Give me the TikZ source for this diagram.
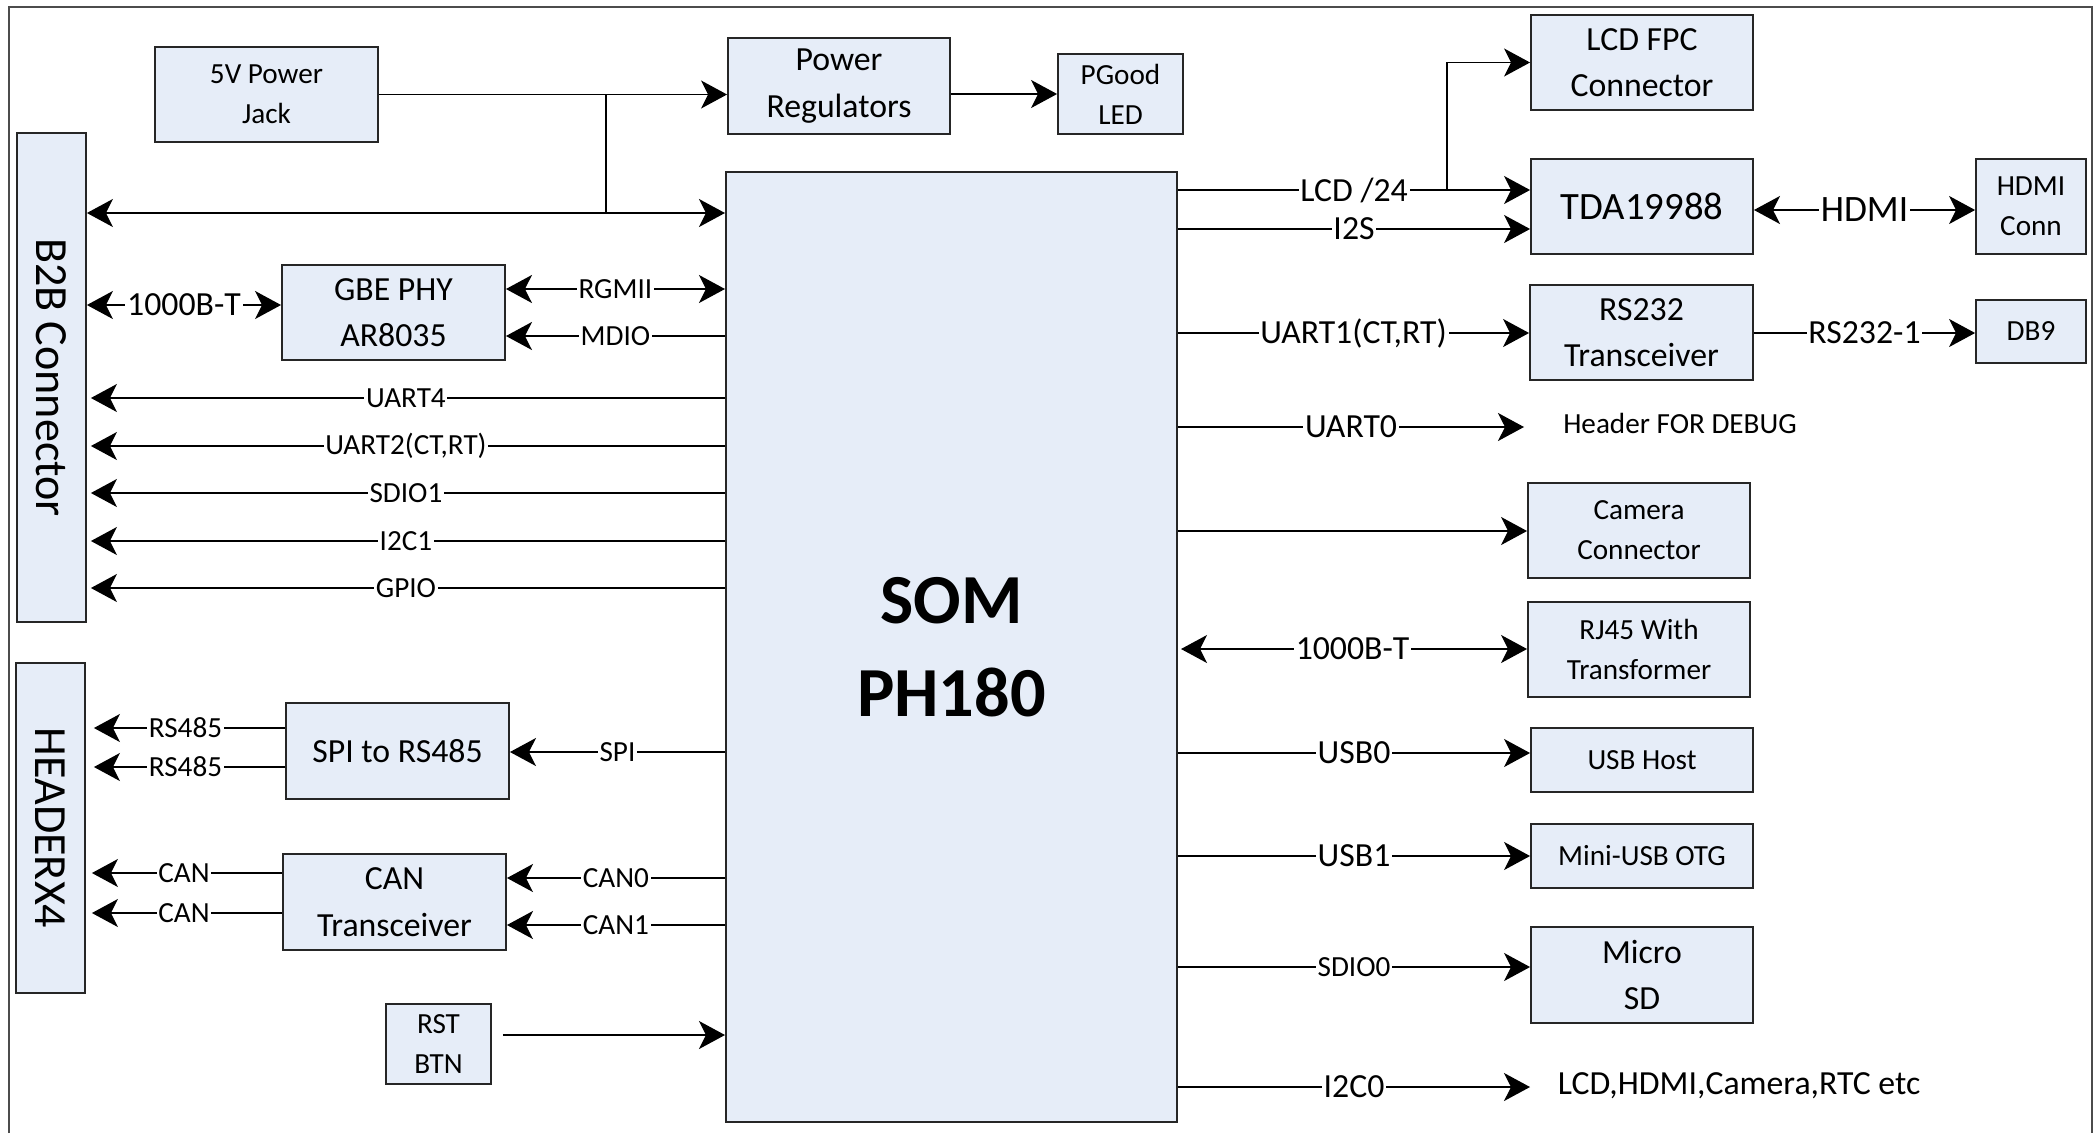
\documentclass[tikz,border=0pt]{standalone}
\usepackage{fontspec}
\setmainfont{Carlito}
\usetikzlibrary{arrows.meta}
\definecolor{boxfill}{RGB}{230,237,248}
\newcommand\myfsA{\fontsize{8.3}{11.4}\selectfont}
\newcommand\myfsB{\fontsize{9.6}{13.2}\selectfont}
\newcommand\myfsC{\fontsize{11}{14}\selectfont}
\newcommand\myfsD{\fontsize{10.6}{14}\selectfont}
\newcommand\myfsE{\fontsize{13.1}{16}\selectfont}
\newcommand\myfsF{\fontsize{20}{26.5}\selectfont\bfseries}
\begin{document}
\begin{tikzpicture}[x=0.01cm,y=-0.01cm,
  >={Stealth[length=2.6mm,width=2.8mm,inset=0.7mm]},
  box/.style={draw=black!85, line width=0.5pt, fill=boxfill, inner sep=1pt, align=center},
  ln/.style={line width=0.45pt},
  arr/.style={ln,->},
  darr/.style={ln,<->},
  lab/.style={fill=white, inner sep=0.5pt, font=\myfsA},
  labB/.style={fill=white, inner sep=0.5pt, font=\myfsB},
]
\useasboundingbox (0,0) rectangle (2098,1133);
\fill[white] (0,0) rectangle (2098,1133);
\draw[black!70, line width=0.6pt] (9,1133) -- (9,7) -- (2092,7) -- (2092,1133);

% boxes
\node[box, minimum width=2.23cm, minimum height=0.95cm, font=\myfsA] (jack) at (266.5,94.5) {5V Power\\Jack};
\node[box, minimum width=2.22cm, minimum height=0.96cm, font=\myfsB] (preg) at (839,86) {Power\\Regulators};
\node[box, minimum width=1.25cm, minimum height=0.80cm, font=\myfsA] (pgood) at (1120.5,94) {PGood\\LED};
\node[box, minimum width=0.69cm, minimum height=4.89cm, font=\myfsE] (b2b) at (51.5,377.5) {\rotatebox{-90}{B2B Connector}};
\node[box, minimum width=0.69cm, minimum height=3.30cm, font=\myfsE] (hdr) at (50.5,828) {\rotatebox{-90}{HEADERX4}};
\node[box, minimum width=4.51cm, minimum height=9.50cm, font=\myfsF] (som) at (951.5,647) {SOM\\PH180};
\node[box, minimum width=2.23cm, minimum height=0.95cm, font=\myfsB] (gbe) at (393.5,312.5) {GBE PHY\\AR8035};
\node[box, minimum width=2.23cm, minimum height=0.96cm, font=\myfsB] (spi) at (397.5,751) {SPI to RS485};
\node[box, minimum width=2.23cm, minimum height=0.96cm, font=\myfsB] (can) at (394.5,902) {CAN\\Transceiver};
\node[box, minimum width=1.05cm, minimum height=0.80cm, font=\myfsA] (rst) at (438.5,1044) {RST\\BTN};
\node[box, minimum width=2.22cm, minimum height=0.95cm, font=\myfsB] (lcdfpc) at (1642,62.5) {LCD FPC\\Connector};
\node[box, minimum width=2.22cm, minimum height=0.95cm, font=\myfsC] (tda) at (1642,206.5) {TDA19988};
\node[box, minimum width=1.10cm, minimum height=0.95cm, font=\myfsA] (hdmic) at (2031,206.5) {HDMI\\Conn};
\node[box, minimum width=2.23cm, minimum height=0.95cm, font=\myfsB] (rs232) at (1641.5,332.5) {RS232\\Transceiver};
\node[box, minimum width=1.10cm, minimum height=0.63cm, font=\myfsA] (db9) at (2031,331.5) {DB9};
\node[box, minimum width=2.22cm, minimum height=0.95cm, font=\myfsA] (cam) at (1639,530.5) {Camera\\Connector};
\node[box, minimum width=2.22cm, minimum height=0.95cm, font=\myfsA] (rj45) at (1639,649.5) {RJ45 With\\Transformer};
\node[box, minimum width=2.22cm, minimum height=0.64cm, font=\myfsA] (usbh) at (1642,760) {USB Host};
\node[box, minimum width=2.22cm, minimum height=0.64cm, font=\myfsA] (musb) at (1642,856) {Mini-USB OTG};
\node[box, minimum width=2.22cm, minimum height=0.96cm, font=\myfsB] (msd) at (1642,975) {Micro\\SD};
\node[font=\myfsA] (dbg) at (1680,423) {Header FOR DEBUG};
\node[font=\myfsB] (i2ct) at (1739,1086) {LCD,HDMI,Camera,RTC etc};

% power
\coordinate (jtop) at (606,94.5);
\coordinate (jbot) at (606,213);
\draw[arr] (jack.east) -- (jack.east -| preg.west);
\draw[ln] (jtop) -- (jbot);
\draw[darr] (b2b.east |- jbot) -- (som.west |- jbot);
\draw[arr] (preg.east |- pgood.west) -- (pgood.west);

% left side
\draw[darr] (b2b.east |- 0,305) -- node[labB] (l1) {1000B-T} (gbe.west |- 0,305);
\draw[darr] (gbe.east |- 0,289) -- node[lab] (l2) {RGMII} (som.west |- 0,289);
\draw[arr] (som.west |- 0,336) -- node[lab] (l3) {MDIO} (gbe.east |- 0,336);
\draw[arr, shorten >=0.4mm] (som.west |- 0,398) -- node[lab] (l4) {UART4} (b2b.east |- 0,398);
\draw[arr, shorten >=0.4mm] (som.west |- 0,446) -- node[lab] (l5) {UART2(CT,RT)} (b2b.east |- 0,446);
\draw[arr, shorten >=0.4mm] (som.west |- 0,493) -- node[lab] (l6) {SDIO1} (b2b.east |- 0,493);
\draw[arr, shorten >=0.4mm] (som.west |- 0,541) -- node[lab] (l7) {I2C1} (b2b.east |- 0,541);
\draw[arr, shorten >=0.4mm] (som.west |- 0,588) -- node[lab] (l8) {GPIO} (b2b.east |- 0,588);
\draw[arr, shorten >=0.8mm] (spi.west |- 0,728) -- node[lab] (l9) {RS485} (hdr.east |- 0,728);
\draw[arr, shorten >=0.8mm] (spi.west |- 0,767) -- node[lab] (l10) {RS485} (hdr.east |- 0,767);
\draw[arr] (som.west |- 0,752) -- node[lab] (l11) {SPI} (spi.east |- 0,752);
\draw[arr, shorten >=0.6mm] (can.west |- 0,873) -- node[lab] (l12) {CAN} (hdr.east |- 0,873);
\draw[arr, shorten >=0.6mm] (can.west |- 0,913) -- node[lab] (l13) {CAN} (hdr.east |- 0,913);
\draw[arr] (som.west |- 0,878) -- node[lab] (l14) {CAN0} (can.east |- 0,878);
\draw[arr] (som.west |- 0,925) -- node[lab] (l15) {CAN1} (can.east |- 0,925);
\draw[arr, shorten <=1.1mm] (rst.east |- 0,1035) -- (som.west |- 0,1035);

% right side
\coordinate (lcdbr) at (1447,190);
\draw[arr] (som.east |- 0,190) -- node[labB] (r1) {LCD /24} (tda.west |- 0,190);
\draw[arr] (lcdbr) |- (lcdfpc.west);
\draw[arr] (som.east |- 0,229) -- node[labB] (r2) {I2S} (tda.west |- 0,229);
\draw[darr] (tda.east |- 0,210) -- node[fill=white, inner sep=0.5pt, font=\myfsD] (r3) {HDMI} (hdmic.west |- 0,210);
\draw[arr] (som.east |- 0,333) -- node[labB] (r4) {UART1(CT,RT)} (rs232.west |- 0,333);
\draw[arr] (rs232.east |- 0,333) -- node[labB] (r5) {RS232-1} (db9.west |- 0,333);
\coordinate (uend) at (1524,427);
\draw[arr] (som.east |- uend) -- node[labB] (r6) {UART0} (uend);
\draw[arr] (som.east |- 0,531) -- (cam.west |- 0,531);
\draw[darr, shorten <=0.3mm] (som.east |- 0,649) -- node[labB] (r7) {1000B-T} (rj45.west |- 0,649);
\draw[arr] (som.east |- 0,753) -- node[labB] (r8) {USB0} (usbh.west |- 0,753);
\draw[arr] (som.east |- 0,856) -- node[labB] (r9) {USB1} (musb.west |- 0,856);
\draw[arr] (som.east |- 0,967) -- node[lab] (r10) {SDIO0} (msd.west |- 0,967);
\coordinate (iend) at (1530,1087);
\draw[arr] (som.east |- iend) -- node[labB] (r11) {I2C0} (iend);
\end{tikzpicture}
\end{document}
